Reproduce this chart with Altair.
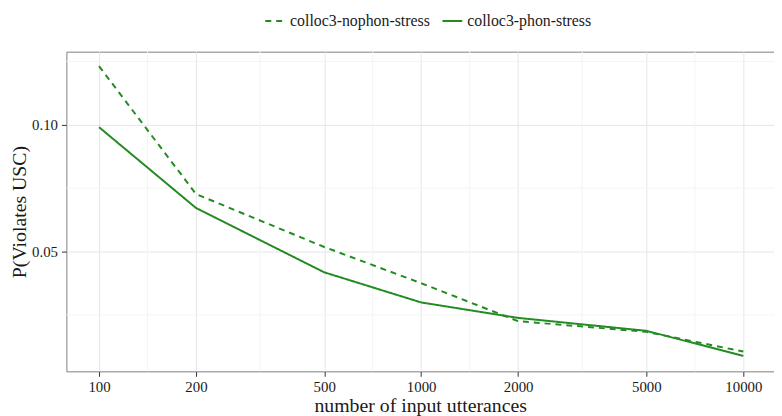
import altair as alt
import pandas as pd

# ---- data ----
utterances = [100, 200, 500, 1000, 2000, 5000, 10000]
nophon_stress = [0.1232, 0.0727, 0.0518, 0.0375, 0.0225, 0.0183, 0.0105]
phon_stress = [0.0991, 0.0672, 0.0418, 0.0299, 0.0238, 0.0187, 0.0088]
series_names = ["colloc3-nophon-stress", "colloc3-phon-stress"]

x_breaks = [100, 200, 500, 1000, 2000, 5000, 10000]
y_breaks = [0.05, 0.10]
x_minor = [141.42, 316.23, 707.11, 1414.21, 3162.28, 7071.07]
y_minor = [0.025, 0.075, 0.125]

rows = []
for name, vals in zip(series_names, [nophon_stress, phon_stress]):
    for u, v in zip(utterances, vals):
        rows.append({"utterances": u, "p": v, "model": name})
df = pd.DataFrame(rows)

FONT = "Liberation Serif"
GREEN = "#228B22"
TEXT = "#1a1a1a"

xscale = alt.Scale(type="log", domain=[79.2, 12450], nice=False)
yscale = alt.Scale(domain=[0.0027, 0.1289], nice=False, zero=False)

minor_x = alt.Chart(pd.DataFrame({"utterances": x_minor})).mark_rule(
    color="#f4f4f4", strokeWidth=1
).encode(x=alt.X("utterances:Q", scale=xscale))

minor_y = alt.Chart(pd.DataFrame({"p": y_minor})).mark_rule(
    color="#f4f4f4", strokeWidth=1
).encode(y=alt.Y("p:Q", scale=yscale))

lines = alt.Chart(df).mark_line(color=GREEN, strokeWidth=2).encode(
    x=alt.X(
        "utterances:Q",
        scale=xscale,
        axis=alt.Axis(
            values=x_breaks, format="d", title="number of input utterances",
            labelPadding=3, titlePadding=2,
        ),
    ),
    y=alt.Y(
        "p:Q",
        scale=yscale,
        axis=alt.Axis(
            values=y_breaks, format=".2f", title="P(Violates USC)",
            labelPadding=4, titlePadding=2,
        ),
    ),
    strokeDash=alt.StrokeDash(
        "model:N",
        scale=alt.Scale(domain=series_names, range=[[6, 5], [1, 0]]),
        legend=alt.Legend(
            title=None, orient="none", legendX=200, legendY=-42,
            direction="horizontal", symbolType="stroke",
            symbolStrokeColor=GREEN, symbolStrokeWidth=2, symbolSize=400,
            labelOffset=4, columnPadding=8,
        ),
    ),
    detail="model:N",
)

chart = alt.layer(minor_x, minor_y, lines).properties(
    width=715,
    height=323,
    padding={"left": 59, "top": 42, "right": 0, "bottom": 45},
    autosize=alt.AutoSizeParams(type="none"),
).configure(
    background="white", font=FONT
).configure_view(
    stroke="#7f7f7f", strokeWidth=1
).configure_axis(
    grid=True, gridColor="#e6e6e6", gridWidth=1,
    domain=False, tickColor="#333333", tickSize=5, tickWidth=1,
    labelFont=FONT, labelFontSize=15, labelColor=TEXT,
    labelFlush=False, labelOverlap=False,
    titleFont=FONT, titleFontSize=20, titleFontWeight="normal", titleColor=TEXT,
).configure_legend(
    labelFont=FONT, labelFontSize=16, labelColor=TEXT,
)

chart.save("out.html", embed_options={"renderer": "svg", "actions": False})
